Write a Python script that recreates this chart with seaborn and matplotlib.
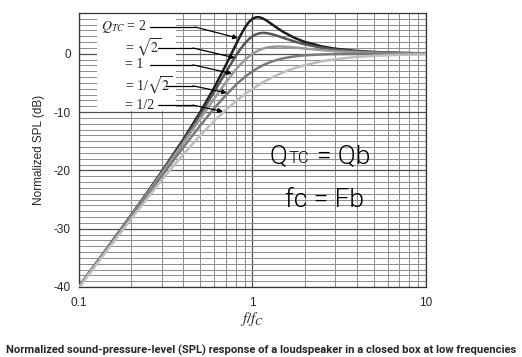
import matplotlib
matplotlib.use("Agg")
import matplotlib.pyplot as plt
from matplotlib.patches import Rectangle
from matplotlib.ticker import MultipleLocator, FixedLocator, NullFormatter
import seaborn as sns
import pandas as pd

# normalized frequency f/fc
freq = [0.1, 0.15, 0.2, 0.25, 0.3, 0.4, 0.5, 0.6, 0.7, 0.8, 0.85, 0.9, 0.95, 1.0,
        1.05, 1.1, 1.15, 1.2, 1.3, 1.4, 1.5, 1.75, 2.0, 2.5, 3.0, 4.0, 5.0, 7.0, 10.0]

# normalized SPL (dB) read for each Qtc
spl_q2 = [-39.92, -32.78, -27.65, -23.60, -20.21, -14.64, -10.00, -5.86, -2.02, 1.51,
          3.07, 4.39, 5.40, 6.02, 6.28, 6.26, 6.05, 5.74, 5.02, 4.35, 3.77, 2.72,
          2.04, 1.28, 0.87, 0.48, 0.31, 0.16, 0.08]
spl_q141 = [-39.93, -32.81, -27.70, -23.67, -20.33, -14.87, -10.41, -6.58, -3.23, -0.40,
            0.76, 1.73, 2.47, 3.01, 3.35, 3.53, 3.59, 3.56, 3.35, 3.05, 2.75, 2.10,
            1.63, 1.05, 0.73, 0.41, 0.26, 0.13, 0.07]
spl_q1 = [-39.96, -32.86, -27.79, -23.82, -20.54, -15.29, -11.14, -7.74, -4.95, -2.74,
          -1.85, -1.10, -0.49, 0.00, 0.38, 0.67, 0.89, 1.04, 1.20, 1.25, 1.23, 1.08,
          0.90, 0.63, 0.45, 0.26, 0.17, 0.09, 0.04]
spl_q071 = [-40.00, -32.96, -27.97, -24.10, -20.95, -16.03, -12.30, -9.40, -7.13, -5.37,
            -4.65, -4.02, -3.48, -3.01, -2.61, -2.26, -1.96, -1.71, -1.30, -1.01, -0.78,
            -0.44, -0.26, -0.11, -0.05, -0.02, -0.01, 0.00, 0.00]
spl_q05 = [-40.09, -33.15, -28.30, -24.61, -21.66, -17.21, -13.98, -11.55, -9.66, -8.17,
           -7.55, -6.98, -6.48, -6.02, -5.61, -5.23, -4.89, -4.58, -4.04, -3.58, -3.19,
           -2.45, -1.94, -1.29, -0.92, -0.53, -0.34, -0.18, -0.09]

q_names = ["2", "sqrt2", "1", "1/sqrt2", "1/2"]
q_labels = [r"$Q_{TC}$ = 2", r"= $\sqrt{2}$", "= 1", r"= 1/$\sqrt{2}$", "= 1/2"]
colors = ["#1c1c1c", "#555555", "#9a9a9a", "#7a7a7a", "#bdbdbd"]

sns.set_style("white")
plt.rcParams["font.family"] = ["Liberation Sans", "DejaVu Sans"]
plt.rcParams["axes.unicode_minus"] = False
plt.rcParams["mathtext.fontset"] = "stix"

frames = []
for name, vals in zip(q_names, [spl_q2, spl_q141, spl_q1, spl_q071, spl_q05]):
    frames.append(pd.DataFrame({"f": freq, "spl": vals, "Q": name}))
df = pd.concat(frames, ignore_index=True)

fig = plt.figure(figsize=(5.22, 3.57), dpi=100)
ax = fig.add_axes([0.1513, 0.1961, 0.6648, 0.7675])
ax.set_xscale("log")

sns.lineplot(data=df, x="f", y="spl", hue="Q", hue_order=q_names, palette=colors,
             linewidth=1.8, legend=False, ax=ax, zorder=3)

ax.set_xlim(0.1, 10)
ax.set_ylim(-40, 7)
ax.xaxis.set_major_locator(FixedLocator([0.1, 1, 10]))
ax.set_xticklabels(["0.1", "1", "10"])
ax.xaxis.set_minor_formatter(NullFormatter())
ax.yaxis.set_major_locator(FixedLocator([-40, -30, -20, -10, 0]))
ax.yaxis.set_minor_locator(MultipleLocator(1))
ax.tick_params(which="major", length=3, width=0.8, pad=3, labelsize=8.5, color="#333333")
ax.tick_params(axis="x", pad=4)
ax.tick_params(which="minor", length=0)

ax.set_axisbelow(True)
ax.grid(which="major", color="#505050", linewidth=0.9)
ax.grid(which="minor", color="#8c8c8c", linewidth=0.7)
for s in ax.spines.values():
    s.set_color("#333333")
    s.set_linewidth(0.9)

# white panel behind the Q labels
ax.add_patch(Rectangle((0.127, -9.8), 0.36 - 0.127, 17, facecolor="white",
                       edgecolor="none", zorder=1))

ax.set_ylabel("Normalized SPL (dB)", fontsize=8.5)
ax.yaxis.set_label_coords(-0.098, 0.5)
ax.set_xlabel(r"$f/f_C$", fontsize=11)
ax.xaxis.set_label_coords(0.5, -0.083)

# labels with leader arrows
label_x = [0.134, 0.184, 0.184, 0.184, 0.184]
label_y = [4.6, 1.0, -1.9, -5.5, -8.8]
start_x = [0.257, 0.285, 0.257, 0.317, 0.285]
kink_x = [0.466, 0.454, 0.454, 0.454, 0.454]
tip_x = [0.825, 0.793, 0.762, 0.713, 0.676]
tip_y = [2.7, -0.7, -3.4, -6.7, -9.9]
for i, lab in enumerate(q_labels):
    ax.text(label_x[i], label_y[i], lab, fontsize=10, family="Liberation Serif",
            ha="left", va="center", zorder=4)
    ax.plot([start_x[i], kink_x[i]], [label_y[i], label_y[i]], color="black",
            linewidth=0.9, zorder=4)
    ax.annotate("", xy=(tip_x[i], tip_y[i]), xytext=(kink_x[i], label_y[i]),
                arrowprops=dict(arrowstyle="-|>", color="black", lw=0.9,
                                mutation_scale=7, shrinkA=0, shrinkB=0), zorder=4)

# handwritten notes
hw = dict(family=["Roboto", "DejaVu Sans"], weight=300, color="black", zorder=4,
          ha="left", va="baseline")
ax.text(1.26, -18.8, "Q", fontsize=19, **hw)
ax.text(1.61, -18.8, "TC", fontsize=12, **hw)
ax.text(2.36, -18.8, "= Qb", fontsize=19, **hw)
ax.text(1.54, -26.3, "fc = Fb", fontsize=19, **hw)

fig.text(0.5, 1 - 350 / 357,
         "Normalized sound-pressure-level (SPL) response of a loudspeaker in a closed box at low frequencies",
         ha="center", va="center", fontsize=8.1, weight="bold",
         family=["Roboto", "Liberation Sans"])

fig.savefig("out.png", dpi=100)
